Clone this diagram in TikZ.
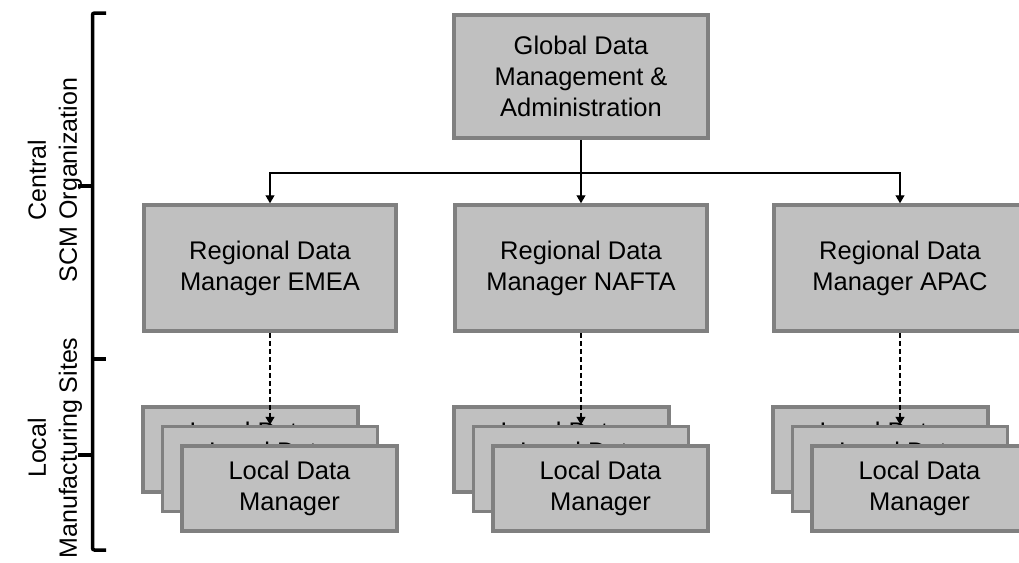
\documentclass[tikz,border=0pt]{standalone}
\usepackage{fontspec}
\setmainfont{Liberation Sans}
\usetikzlibrary{arrows.meta}
\definecolor{boxfill}{RGB}{192,192,192}
\definecolor{boxline}{RGB}{128,128,128}

\begin{document}
\begin{tikzpicture}[x=1pt,y=-1pt,
  box/.style={draw=boxline, fill=boxfill, line width=3.5pt, align=center,
    inner sep=0pt, font=\fontsize{25.5}{31}\selectfont, text=black},
  topbox/.style={box, minimum width=254pt, minimum height=123pt},
  regbox/.style={box, minimum width=252pt, minimum height=126pt},
  locbox/.style={box, minimum width=215pt, minimum height=85pt},
  link/.style={line width=1.3pt, -{Triangle[width=9pt,length=8pt]}},
  dlink/.style={link, dash pattern=on 5pt off 3pt},
  brace/.style={line width=3.5pt, black, rounded corners=2pt},
  side/.style={rotate=90, align=center, font=\fontsize{25}{31}\selectfont}
]
\useasboundingbox (0,0) rectangle (1019,562);
\clip (0,0) rectangle (1019,562);

% left-hand brackets and their labels
\draw[brace] (106,13) -- (92.5,13) -- (92.5,550) -- (106,550);
\draw[brace] (78,186) -- (92.5,186);
\draw[brace] (92.5,359) -- (106,359);
\draw[brace] (78,455) -- (92.5,455);
\node[side] (central) at (55,180) {Central\\SCM Organization};
\node[side] (local) at (55,448) {Local\\Manufacturing Sites};

% global level
\node[topbox] (global) at (581,76.5) {Global Data\\Management \&\\Administration};

% regional level
\node[regbox] (emea)  at (270,268) {Regional Data\\Manager EMEA};
\node[regbox] (nafta) at (581,268) {Regional Data\\Manager NAFTA};
\node[regbox] (apac)  at (900,268) {Regional Data\\Manager APAC};

\coordinate (split) at (581,173);
\draw[link] (global.south) -- (nafta.north);
\draw[link] (split) -| (emea.north);
\draw[link] (split) -| (apac.north);

% local sites: three stacked boxes below each region
\foreach \r/\cx in {emea/270, nafta/581, apac/900}{
  \node[locbox] (\r-back) at (\cx-19.5,449.5) {Local Data\\Manager};
  \node[locbox] (\r-mid)  at (\cx,469) {Local Data\\Manager};
  \draw[dlink] (\r.south) -- (\r-mid.north);
  \node[locbox] (\r-front) at (\cx+19.5,488.5) {Local Data\\Manager};
}
\end{tikzpicture}
\end{document}
